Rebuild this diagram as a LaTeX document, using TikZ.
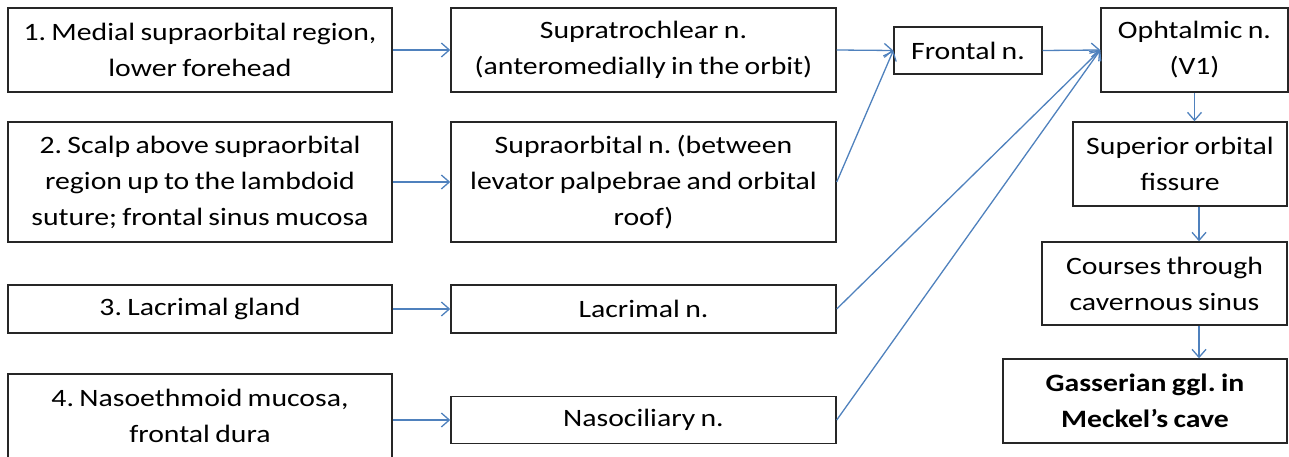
\documentclass[tikz,border=0pt]{standalone}
\usepackage{fontspec}
\setmainfont{Carlito}[FakeStretch=1.19,WordSpace=0.8]
\usetikzlibrary{arrows.meta}
\definecolor{arrblue}{RGB}{79,129,189}
\frenchspacing
\begin{document}
\begin{tikzpicture}[x=1pt,y=1pt,
  nbox/.style={draw=black!85,line width=1.4pt,align=center,inner sep=0pt,font=\fontsize{25}{36}\selectfont},
  arr/.style={draw=arrblue,line width=1.3pt,-{Straight Barb[length=8pt,width=14pt,line width=1.3pt]}}]
\useasboundingbox (0,0) rectangle (1289,-457);
\node [nbox,minimum width=384pt,minimum height=84pt] (reg1) at (200,-50) {1. Medial supraorbital region,\\lower forehead};
\node [nbox,minimum width=384pt,minimum height=120pt] (reg2) at (200,-182) {2. Scalp above supraorbital\\region up to the lambdoid\\suture; frontal sinus mucosa};
\node [nbox,minimum width=384pt,minimum height=48pt] (reg3) at (200,-309) {3. Lacrimal gland};
\node [nbox,minimum width=384pt,minimum height=84pt] (reg4) at (200,-416) {4. Nasoethmoid mucosa,\\frontal dura};
\node [nbox,minimum width=385pt,minimum height=84pt] (strn) at (643.5,-50) {Supratrochlear n.\\(anteromedially in the orbit)};
\node [nbox,minimum width=385pt,minimum height=120pt] (sorn) at (643.5,-182) {Supraorbital n. (between\\levator palpebrae and orbital\\roof)};
\node [nbox,minimum width=385pt,minimum height=48pt] (lacn) at (643.5,-309) {Lacrimal n.};
\node [nbox,minimum width=385pt,minimum height=47pt] (nasn) at (643.5,-420) {Nasociliary n.};
\node [nbox,minimum width=148pt,minimum height=47pt] (fron) at (968,-50.5) {Frontal n.};
\node [nbox,minimum width=187pt,minimum height=84pt] (ophn) at (1194.5,-50) {Ophtalmic n.\\(V1)};
\node [nbox,minimum width=214pt,minimum height=84pt] (sof) at (1180,-164) {Superior orbital\\fissure};
\node [nbox,minimum width=245pt,minimum height=83pt] (cav) at (1164.5,-283.5) {Courses through\\cavernous sinus};
\node [nbox,minimum width=284pt,minimum height=84pt,font=\fontsize{25}{36}\selectfont\bfseries] (gas) at (1145,-401) {Gasserian ggl. in\\Meckel’s cave};
\coordinate (vx) at (1199,0);
\draw [arr] (reg1) -- (strn);
\draw [arr] (reg2) -- (sorn);
\draw [arr] (reg3) -- (lacn);
\draw [arr] (reg4.east |- nasn) -- (nasn);
\draw [arr] (strn.east) -- (fron.west);
\draw [arr] (sorn.east) -- (fron.west);
\draw [arr] (fron.east) -- (ophn.west);
\draw [arr] (lacn.east) -- (ophn.west);
\draw [arr] (nasn.east) -- (ophn.west);
\draw [arr] (ophn.south) -- (ophn.south |- sof.north);
\draw [arr] (sof.south -| vx) -- (cav.north -| vx);
\draw [arr] (cav.south -| vx) -- (gas.north -| vx);
\end{tikzpicture}
\end{document}
